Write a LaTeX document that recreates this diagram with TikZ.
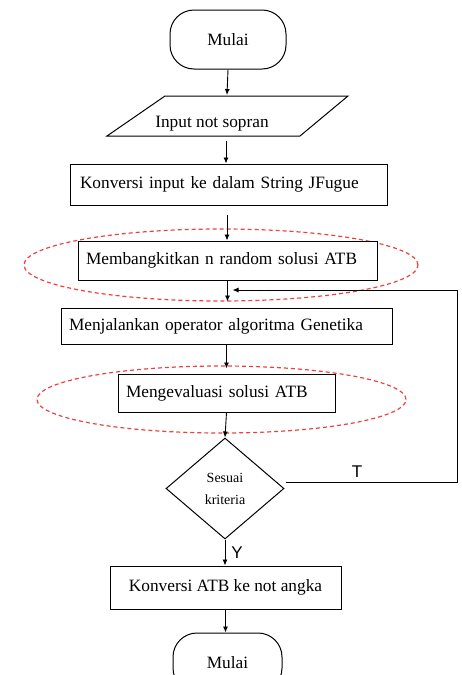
\documentclass[tikz,border=0pt]{standalone}
\usepackage{fontspec}
\setmainfont{Liberation Serif}
\newfontfamily\lsans{Liberation Sans}
\usetikzlibrary{shapes.geometric,arrows.meta}
\definecolor{ered}{RGB}{238,64,64}
\begin{document}
\begin{tikzpicture}[x=1pt,y=-1pt,
  every node/.style={font=\fontsize{17.3}{20}\selectfont},
  base/.style={draw, line width=1pt, inner sep=0pt, fill=white},
  term/.style={base, rectangle, rounded corners=24pt},
  arr/.style={-{Latex[length=6pt,width=5pt]}, line width=0.9pt},
  ell/.style={draw=ered, dash pattern=on 4pt off 3pt, line width=1.2pt},
  lab/.style={font=\lsans\fontsize{17}{20}\selectfont, inner sep=0pt}]
\clip (0,0) rectangle (461,675);
% red dashed ellipses
\draw[ell] (221,265) ellipse [x radius=197pt, y radius=36pt];
\draw[ell] (221.5,399.5) ellipse [x radius=184.5pt, y radius=33.5pt];
% start
\node[term, minimum width=116pt, minimum height=59pt] (start) at (228,39.5) {Mulai};
% input parallelogram
\draw[line width=1pt, fill=white] (165,96) -- (348,96) -- (300,136) -- (107,136) -- cycle;
\node[inner sep=0pt] (inp) at (212,124) {Input not sopran};
\coordinate (inpT) at (227,95);
\coordinate (inpB) at (226,141);
% boxes
\node[base, minimum width=317pt, minimum height=41pt, text width=297pt, inner xsep=10pt, align=left] (b1) at (228.5,184.5) {\raisebox{-1pt}{Konversi input ke dalam String JFugue}};
\node[base, minimum width=299pt, minimum height=39pt, text width=283pt, inner xsep=8pt, align=left] (b2) at (227.5,260.5) {\raisebox{-1.5pt}{Membangkitkan n random solusi ATB}};
\node[base, minimum width=331pt, minimum height=36pt, text width=315pt, inner xsep=8pt, align=left] (b3) at (226.5,326) {\raisebox{-3pt}{Menjalankan operator algoritma Genetika}};
\node[base, minimum width=217pt, minimum height=38pt, text width=201pt, inner xsep=8pt, align=left] (b4) at (226.5,393) {\raisebox{-3pt}{Mengevaluasi solusi ATB}};
\node[base, diamond, minimum width=118pt, minimum height=101pt, align=center, font=\fontsize{14}{25}\selectfont] (dec) at (225,488.5) {\raisebox{-3pt}{Sesuai}\\kriteria};
\node[base, minimum width=231pt, minimum height=43pt, align=center] (b5) at (225.5,587.5) {Konversi ATB ke not angka};
\node[term, minimum width=109pt, minimum height=59pt] (fin) at (227.5,662.5) {Mulai};
% connectors
\coordinate (b1o) at (227,215);
\draw[arr] (start.south) -- (inpT);
\draw[arr] (inpB) -- (inpB |- b1.north);
\draw[arr] (b1o) -- (b1o |- b2.north);
\draw[arr, shorten >=6pt] (b2.south) -- (b2.south |- b3.north);
\draw[arr, shorten >=5pt] (b3.south) -- (b3.south |- b4.north);
\draw[arr] (b4.south) -- (dec.north);
\draw[arr] (dec.south) -- (dec.south |- b5.north);
\draw[arr] (b5.south) -- (b5.south |- fin.north);
% feedback loop
\coordinate (fbT) at (457,290);
\draw[arr, shorten >=5pt] ([xshift=1pt,yshift=6pt]dec.east) -| (fbT) -- (fbT -| b2.south);
\node[lab] (tlab) at (357,472) {T};
\node[lab] (ylab) at (237,553) {Y};
\end{tikzpicture}
\end{document}
